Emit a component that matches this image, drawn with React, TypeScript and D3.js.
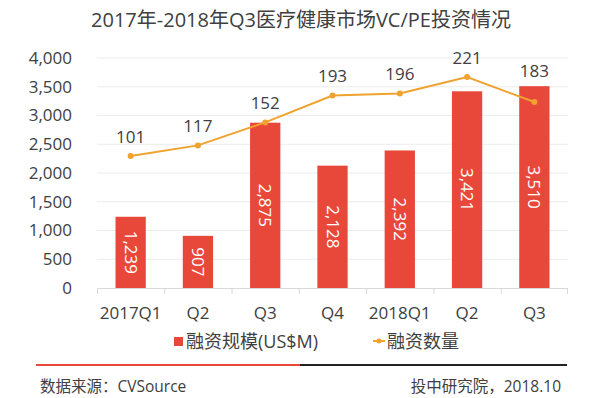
import React from 'react';
import * as d3 from 'd3';

// quarters on the x axis
const quarters = ['2017Q1', 'Q2', 'Q3', 'Q4', '2018Q1', 'Q2 ', 'Q3 '];
// funding amount, US$M (bars)
const amounts = [1239, 907, 2875, 2128, 2392, 3421, 3510];
// number of deals (line)
const dealCounts = [101, 117, 152, 193, 196, 221, 183];
const yTicks = [0, 500, 1000, 1500, 2000, 2500, 3000, 3500, 4000];

const W = 600;
const H = 398;
const margin = {top: 58, right: 32, bottom: 110, left: 97};
const FONT = "'Open Sans', 'Noto Sans CJK SC', sans-serif";
const BAR = '#E8483A';
const LINE = '#F0A22E';
const TEXT = '#404040';

export default function App() {
  const x = d3
    .scaleBand()
    .domain(quarters)
    .range([margin.left, W - margin.right])
    .paddingInner(0.55)
    .paddingOuter(0.275);
  const band = d3.scaleBand().domain(quarters).range([margin.left, W - margin.right]);
  const y = d3.scaleLinear().domain([0, 4000]).range([H - margin.bottom, margin.top]);
  // secondary axis for deal counts (hidden)
  const y2 = d3.scaleLinear().domain([-100, 250]).range([H - margin.bottom, margin.top]);

  const cx = (i: number) => (x(quarters[i]) as number) + x.bandwidth() / 2;
  const line = d3
    .line<number>()
    .x((d, i) => cx(i))
    .y(d => y2(d));

  const fmt = d3.format(',');
  const base = y(0);
  // label sits above the point, but never on top of the bar
  const labelY = (i: number) => Math.min(y2(dealCounts[i]) - 19, y(amounts[i]) - 15);

  return (
    <svg width={W} height={H} style={{position: 'absolute', left: 0, top: 0, background: '#fff'}} fontFamily={FONT}>
      <text x={301} y={27} textAnchor="middle" fontSize={20} fill={TEXT}>
        2017年-2018年Q3医疗健康市场VC/PE投资情况
      </text>

      {/* grid */}
      {yTicks.map(t => (
        <g key={t}>
          {t > 0 && (
            <line x1={margin.left} x2={W - margin.right} y1={y(t)} y2={y(t)} stroke="#ececec" strokeWidth={1} />
          )}
          <text x={72} y={y(t)} dy="0.35em" textAnchor="end" fontSize={17} fill={TEXT}>
            {fmt(t)}
          </text>
        </g>
      ))}

      {/* x axis */}
      <line x1={margin.left} x2={W - margin.right} y1={base + 0.5} y2={base + 0.5} stroke="#d9d9d9" />
      {quarters.map((q, i) => (
        <line
          key={'t' + i}
          x1={(band(q) as number) + 0.5}
          x2={(band(q) as number) + 0.5}
          y1={base}
          y2={base + 6}
          stroke="#d9d9d9"
        />
      ))}
      <line x1={W - margin.right - 0.5} x2={W - margin.right - 0.5} y1={base} y2={base + 6} stroke="#d9d9d9" />

      {/* bars */}
      {amounts.map((v, i) => (
        <g key={'b' + i}>
          <rect x={x(quarters[i])} y={y(v)} width={x.bandwidth()} height={base - y(v)} fill={BAR} />
          <text
            transform={`translate(${cx(i)},${(y(v) + base) / 2}) rotate(90)`}
            textAnchor="middle"
            dy="0.35em"
            fontSize={17}
            fill="#fff"
          >
            {fmt(v)}
          </text>
        </g>
      ))}

      {/* line */}
      <path d={line(dealCounts) as string} fill="none" stroke={LINE} strokeWidth={2} />
      {dealCounts.map((v, i) => (
        <g key={'p' + i}>
          <circle cx={cx(i)} cy={y2(v)} r={3} fill={LINE} />
          <text x={cx(i)} y={labelY(i)} dy="0.35em" textAnchor="middle" fontSize={17} fill={TEXT}>
            {v}
          </text>
        </g>
      ))}

      {/* x labels */}
      {quarters.map((q, i) => (
        <text key={'x' + i} x={cx(i)} y={313} dy="0.35em" textAnchor="middle" fontSize={17} fill={TEXT}>
          {q.trim()}
        </text>
      ))}

      {/* legend */}
      <rect x={174} y={337} width={9} height={9} fill={BAR} />
      <text x={186} y={342} dy="0.35em" fontSize={18} fill={TEXT}>
        融资规模(US$M)
      </text>
      <line x1={373} x2={385} y1={341} y2={341} stroke={LINE} strokeWidth={2} />
      <circle cx={379} cy={341} r={2.5} fill={LINE} />
      <text x={387} y={342} dy="0.35em" fontSize={18} fill={TEXT}>
        融资数量
      </text>

      {/* footer */}
      <line x1={36} x2={300} y1={365} y2={365} stroke="#E8483A" strokeWidth={2} />
      <line x1={300} x2={567} y1={365} y2={365} stroke="#222" strokeWidth={2} />
      <text x={40} y={387} dy="0.35em" fontSize={15.5} fill={TEXT}>
        数据来源：CVSource
      </text>
      <text x={561} y={387} dy="0.35em" textAnchor="end" fontSize={15.5} fill={TEXT}>
        投中研究院，2018.10
      </text>
    </svg>
  );
}
